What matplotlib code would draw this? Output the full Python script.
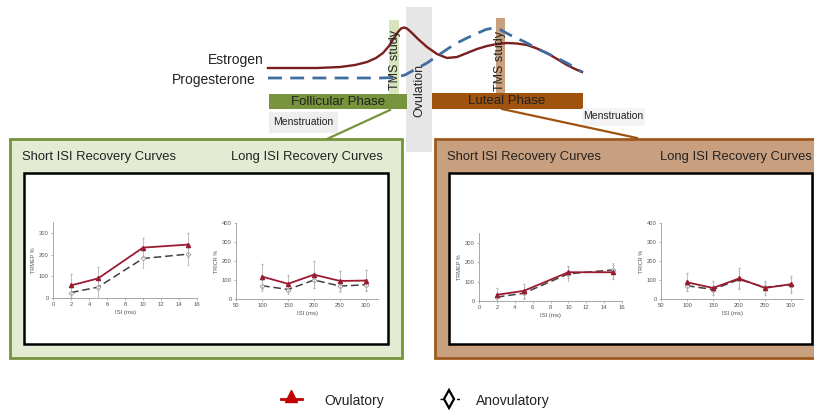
import numpy as np
import matplotlib.pyplot as plt
from matplotlib.patches import Rectangle

plt.rcParams['font.family'] = ['Liberation Sans', 'DejaVu Sans']

W, H = 814, 415

###  Recovery curve data (mean and error, %)

short_isi = [2, 5, 10, 15]
long_isi = [100, 150, 200, 250, 300]

foll_short_ov = [58, 90, 232, 246]
foll_short_ov_err = [52, 52, 45, 55]
foll_short_an = [25, 50, 182, 202]
foll_short_an_err = [30, 50, 45, 48]

foll_long_ov = [118, 80, 128, 95, 97]
foll_long_ov_err = [65, 45, 70, 55, 55]
foll_long_an = [70, 50, 100, 68, 75]
foll_long_an_err = [30, 25, 40, 30, 30]

lut_short_ov = [32, 52, 148, 148]
lut_short_ov_err = [35, 35, 32, 35]
lut_short_an = [20, 40, 140, 160]
lut_short_an_err = [25, 30, 35, 38]

lut_long_ov = [88, 58, 108, 58, 78]
lut_long_ov_err = [48, 35, 55, 35, 45]
lut_long_an = [70, 50, 103, 62, 75]
lut_long_an_err = [30, 25, 45, 30, 35]

###  Hormone curve outlines (diagram units)

estrogen_x = [268, 317, 340, 355, 367, 376, 383, 389, 394, 398, 401, 404, 407, 412, 418, 427,
              437, 447, 457, 467, 477, 487, 497, 507, 517, 527, 537, 547, 557, 567, 575, 582]
estrogen_y = [68, 68, 67, 65, 62, 58, 53, 46, 38, 32, 28.5, 27.5, 28.5, 33, 39, 47,
              54, 58, 57, 53, 49, 46, 44, 43, 43.5, 45, 48.5, 53, 59, 65, 69, 72]
progest_x = [268, 320, 380, 395, 405, 414, 427, 443, 455, 467, 478, 486, 493, 500, 510, 525,
             540, 555, 567, 582]
progest_y = [78, 78, 78, 77.5, 75, 70, 63, 52, 44, 38, 33, 29.5, 28, 29.5, 35, 42,
             50, 57, 63, 72]

ov_col = '#9b1b30'
an_col = '#404040'
green = '#77933c'
brown = '#a0520f'

fig = plt.figure(figsize=(W / 100, H / 100), dpi=100)
ax = fig.add_axes([0, 0, 1, 1])
ax.set_xlim(0, W)
ax.set_ylim(H, 0)
ax.axis('off')

def rect(x0, y0, x1, y1, fc, ec='none', lw=0, z=1):
    ax.add_patch(Rectangle((x0, y0), x1 - x0, y1 - y0, facecolor=fc, edgecolor=ec, linewidth=lw, zorder=z))

###  Cycle diagram

rect(406, 7, 432, 152, '#e6e6e6')
rect(389, 20, 399, 94, '#d7e4bd')
rect(496, 18, 505, 93, '#c9a07f')
rect(269, 94, 407, 109, green)
rect(432, 93, 583, 109, brown)
rect(269, 112, 338, 133, '#eeeeee')
rect(582, 108, 645, 126, '#f4f4f4')

ax.plot(estrogen_x, estrogen_y, color='#7a1f1f', lw=1.7, zorder=4, solid_joinstyle='round')
ax.plot(progest_x, progest_y, color='#3e6fa0', lw=2.0, dashes=(5, 3), zorder=4)

ax.text(264, 60, 'Estrogen', ha='right', va='center', fontsize=10, color='#222222')
ax.text(256, 80, 'Progesterone', ha='right', va='center', fontsize=10, color='#222222')
ax.text(338, 102, 'Follicular Phase', ha='center', va='center', fontsize=9.5, color='#222222', zorder=5)
ax.text(507, 101, 'Luteal Phase', ha='center', va='center', fontsize=9.5, color='#222222', zorder=5)
ax.text(273, 122, 'Menstruation', ha='left', va='center', fontsize=7.5, color='#222222')
ax.text(583, 116, 'Menstruation', ha='left', va='center', fontsize=7.5, color='#222222')
ax.text(395, 60, 'TMS study', rotation=90, ha='center', va='center', fontsize=9, color='#222222', zorder=5)
ax.text(500, 61, 'TMS study', rotation=90, ha='center', va='center', fontsize=9, color='#222222', zorder=5)
ax.text(419, 90, 'Ovulation', rotation=90, ha='center', va='center', fontsize=9, color='#222222', zorder=5)

# connectors down to the result boxes
ax.plot([390, 327], [110, 139], color=green, lw=1.6, zorder=2)
ax.plot([502, 637], [109, 138], color=brown, lw=1.6, zorder=2)

###  Result boxes

rect(10, 139, 402, 358, '#e3ebd2', green, 2)
rect(24, 173, 388, 344, 'white', 'black', 1.8, z=2)
rect(435, 139, 830, 358, '#c9a07f', '#9e5a1e', 2)
rect(449, 173, 812, 344, 'white', 'black', 1.8, z=2)

for x0, x1 in [(22, 383), (447, 812)]:
    ax.text(x0, 157, 'Short ISI Recovery Curves', ha='left', va='center', fontsize=9.4, color='#222222')
    ax.text(x1, 157, 'Long ISI Recovery Curves', ha='right', va='center', fontsize=9.4, color='#222222')

def px_axes(x0, x1, ytop, ybot):
    return fig.add_axes([x0 / W, 1 - ybot / H, (x1 - x0) / W, (ybot - ytop) / H])

def draw_curves(a, x, ov, ov_err, an, an_err, xlim, ylim, xticks, yticks, ylab):
    a.errorbar(x, an, yerr=an_err, color=an_col, lw=1.1, dashes=(5, 2.5), marker='D', ms=2.5,
               mfc='white', mec='#888888', mew=0.5, ecolor='#b5b5b5', elinewidth=0.6, capsize=1, zorder=3)
    a.errorbar(x, ov, yerr=ov_err, color=ov_col, lw=1.3, marker='^', ms=3,
               mfc=ov_col, mec=ov_col, ecolor='#b5b5b5', elinewidth=0.6, capsize=1, zorder=4)
    a.set_xlim(*xlim)
    a.set_ylim(*ylim)
    a.set_xticks(xticks)
    a.set_yticks(yticks)
    a.set_facecolor('none')
    for s in ['top', 'right']:
        a.spines[s].set_visible(False)
    for s in ['left', 'bottom']:
        a.spines[s].set_color('#999999')
        a.spines[s].set_linewidth(0.6)
    a.tick_params(labelsize=4.2, length=1.5, width=0.5, color='#999999', labelcolor='#555555', pad=1.5)
    a.set_xlabel('ISI (ms)', fontsize=4.3, color='#555555', labelpad=2)
    a.set_ylabel(ylab, fontsize=4, color='#555555', labelpad=2)

a1 = px_axes(53, 197, 222, 298)
draw_curves(a1, short_isi, foll_short_ov, foll_short_ov_err, foll_short_an, foll_short_an_err,
            (0, 16), (0, 350), range(0, 17, 2), [0, 100, 200, 300], 'TRMEP %')
a2 = px_axes(236, 378, 223, 299)
draw_curves(a2, long_isi, foll_long_ov, foll_long_ov_err, foll_long_an, foll_long_an_err,
            (50, 323), (0, 400), range(50, 301, 50), range(0, 401, 100), 'TRICR %')
a3 = px_axes(479, 622, 233, 301)
draw_curves(a3, short_isi, lut_short_ov, lut_short_ov_err, lut_short_an, lut_short_an_err,
            (0, 16), (0, 350), range(0, 17, 2), [0, 100, 200, 300], 'TRMEP %')
a4 = px_axes(661, 803, 223, 299)
draw_curves(a4, long_isi, lut_long_ov, lut_long_ov_err, lut_long_an, lut_long_an_err,
            (50, 323), (0, 400), range(50, 301, 50), range(0, 401, 100), 'TRICR %')

###  Legend

ax.plot([281, 302], [399, 399], color='#c00000', lw=2)
ax.plot([291], [396], marker='^', ms=8, color='#c00000')
ax.text(324, 401, 'Ovulatory', ha='left', va='center', fontsize=10, color='#222222')
ax.plot([440, 462], [399, 399], color='black', lw=1, dashes=(2, 2))
ax.plot([449, 449], [391, 407], color='black', lw=1)
ax.plot([449], [399], marker='d', ms=9, mfc='white', mec='black', mew=1.6)
ax.text(476, 401, 'Anovulatory', ha='left', va='center', fontsize=10, color='#222222')

fig.savefig('out.png', dpi=100)
